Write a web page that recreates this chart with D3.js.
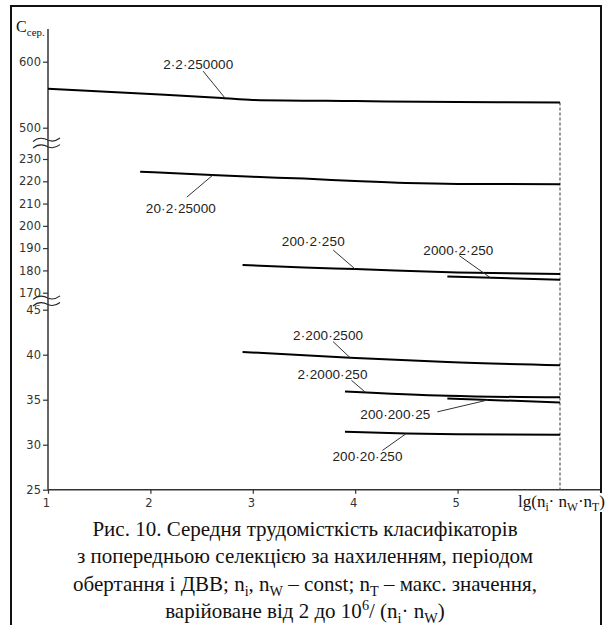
<!DOCTYPE html>
<html>
<head>
<meta charset="utf-8">
<script src="https://cdn.jsdelivr.net/npm/d3@7"></script>
<style>
  body { margin: 0; background: #fff; }
  svg { display: block; }
</style>
</head>
<body>
<div id="chart"></div>
<script>
// values
const seriesNames = ["2·2·250000", "20·2·25000", "200·2·250", "2000·2·250",
                     "2·200·2500", "2·2000·250", "200·200·25", "200·20·250"];
const seriesPanel = ["top", "mid", "mid", "mid", "bot", "bot", "bot", "bot"];
const seriesX = [
  [1, 2, 2.7, 3, 4, 5, 6],
  [1.9, 2.6, 3, 3.5, 4, 4.5, 5, 6],
  [2.9, 3.5, 4, 5, 6],
  [4.9, 6],
  [2.9, 3.95, 4.9, 6],
  [3.9, 4.9, 6],
  [4.9, 6],
  [3.9, 4.5, 5, 6]
];
const seriesY = [
  [559, 551, 545, 542, 540.3, 539, 538],
  [224.3, 222.8, 222, 221.2, 220.1, 219.2, 218.8, 218.7],
  [182.4, 181.3, 180.6, 179.1, 178.4],
  [177.3, 175.8],
  [40.3, 39.67, 39.18, 38.84],
  [35.92, 35.44, 35.26],
  [35.14, 34.7],
  [31.44, 31.25, 31.15, 31.1]
];
const xTicks = [1, 2, 3, 4, 5];
const topTicks = [500, 600];
const midTicks = [170, 180, 190, 200, 210, 220, 230];
const botTicks = [25, 30, 35, 40, 45];

// label placement: point on the line (lg value) and pixel offsets
const labelAt = [2.73, 2.61, 4.0, 5.32, 3.95, 4.1, 5.3, 4.5];
const leaderFrom = [[-22, -27], [-26, 22], [-22, -19], [-31, -22], [-17, -16], [-14, -12], [-51, 12], [-24, 17]];
const textAt = [[-27, -29], [-32, 38], [-42, -23], [-32, -23], [-22, -18], [-33, -13], [-93, 19], [-39, 28]];

const W = 610, H = 625;
const svg = d3.select("#chart").append("svg")
  .attr("width", W).attr("height", H)
  .attr("viewBox", `0 0 ${W} ${H}`);

const x = d3.scaleLinear().domain([1, 6]).range([48, 560]);
const y = {
  top: d3.scaleLinear().domain([500, 600]).range([127.7, 61.7]),
  mid: d3.scaleLinear().domain([170, 230]).range([292.7, 159]),
  bot: d3.scaleLinear().domain([25, 45]).range([489.7, 309.7])
};
const x0 = x(1), yBase = y.bot(25);

// frame
svg.append("rect")
  .attr("x", 11).attr("y", 6).attr("width", 590).attr("height", 630)
  .attr("fill", "none").attr("stroke", "#111").attr("stroke-width", 2);

// y axis line
svg.append("line")
  .attr("x1", x0).attr("x2", x0).attr("y1", 29).attr("y2", yBase)
  .attr("stroke", "#333").attr("stroke-width", 1.5);

// x axis line
svg.append("line")
  .attr("x1", x0).attr("x2", 600).attr("y1", yBase).attr("y2", yBase)
  .attr("stroke", "#333").attr("stroke-width", 1.5);

function styleAxis(g) {
  g.select(".domain").remove();
  g.selectAll(".tick line").attr("stroke", "#333").attr("stroke-width", 1.2);
  g.selectAll(".tick text")
    .attr("fill", "#333")
    .style("font-family", "'DejaVu Sans', sans-serif")
    .style("font-size", "11.5px");
}

[["top", topTicks], ["mid", midTicks], ["bot", botTicks]].forEach(([k, t]) => {
  svg.append("g")
    .attr("transform", `translate(${x0},0)`)
    .call(d3.axisLeft(y[k]).tickValues(t).tickSize(5).tickPadding(2))
    .call(styleAxis);
});

svg.append("g")
  .attr("transform", `translate(0,${yBase})`)
  .call(d3.axisBottom(x).tickValues(xTicks).tickSize(4).tickPadding(5).tickFormat(d3.format("d")))
  .call(styleAxis)
  .selectAll(".tick text").attr("dx", -2);

// axis break marks
[[y.top(500), y.mid(230)], [y.mid(170), y.bot(45)]].forEach(([a, b]) => {
  const mid = (a + b) / 2;
  [mid - 3.3, mid + 3.3].forEach(yy => {
    svg.append("path")
      .attr("d", `M33,${yy + 1.5} C38,${yy - 3} 44,${yy - 2} 48,${yy} S56,${yy + 1} 60,${yy - 2}`)
      .attr("fill", "#fff").attr("stroke", "#222").attr("stroke-width", 1.1);
  });
});

// dashed limit at lg = 6
svg.append("line")
  .attr("x1", x(6)).attr("x2", x(6))
  .attr("y1", y.top(seriesY[0][seriesY[0].length - 1])).attr("y2", yBase)
  .attr("stroke", "#555").attr("stroke-width", 1.2)
  .attr("stroke-dasharray", "3,2");

// series lines
seriesNames.forEach((name, i) => {
  const ys = y[seriesPanel[i]];
  const pts = seriesX[i].map((v, j) => [v, seriesY[i][j]]);
  const line = d3.line().x(d => x(d[0])).y(d => ys(d[1])).curve(d3.curveMonotoneX);
  svg.append("path")
    .datum(pts)
    .attr("d", line)
    .attr("fill", "none").attr("stroke", "#000").attr("stroke-width", 2);

  const along = d3.scaleLinear().domain(seriesX[i]).range(seriesY[i]);
  const ax = x(labelAt[i]), ay = ys(along(labelAt[i]));
  svg.append("line")
    .attr("x1", ax + leaderFrom[i][0]).attr("y1", ay + leaderFrom[i][1])
    .attr("x2", ax).attr("y2", ay)
    .attr("stroke", "#333").attr("stroke-width", 1);
  svg.append("text")
    .attr("x", ax + textAt[i][0]).attr("y", ay + textAt[i][1])
    .attr("text-anchor", "middle")
    .attr("textLength", 7 * name.length).attr("lengthAdjust", "spacing")
    .attr("fill", "#222")
    .style("font-family", "'Liberation Sans', Arial, sans-serif")
    .style("font-size", "13.5px")
    .text(name);
});

// rich text helper: parts are [string, "n" | "sub" | "sup"]
function rich(sel, parts, size) {
  let shift = 0;
  parts.forEach(([s, mode]) => {
    const target = mode === "sub" ? size * 0.25 : mode === "sup" ? -size * 0.4 : 0;
    sel.append("tspan")
      .attr("dy", target - shift)
      .style("font-size", mode === "n" ? size + "px" : (size * 0.68) + "px")
      .text(s);
    shift = target;
  });
  if (shift) sel.append("tspan").attr("dy", -shift).text("");
}

// y label
const yl = svg.append("text").attr("x", 16).attr("y", 31.5)
  .attr("fill", "#111")
  .style("font-family", "'Liberation Serif', 'Times New Roman', serif");
rich(yl, [["C", "n"], ["сер.", "sub"]], 16);

// x label with white box over the frame
svg.append("rect").attr("x", 514).attr("y", 493).attr("width", 93).attr("height", 19).attr("fill", "#fff");
const xl = svg.append("text").attr("x", 518).attr("y", 507)
  .attr("fill", "#111")
  .style("font-family", "'Liberation Serif', 'Times New Roman', serif");
rich(xl, [["lg(n", "n"], ["i", "sub"], ["· n", "n"], ["W", "sub"], ["·n", "n"], ["T", "sub"], [")", "n"]], 17);

// caption
const capLines = [
  [["Рис. 10. Середня трудомісткість класифікаторів", "n"]],
  [["з попередньою селекцією за нахиленням, періодом", "n"]],
  [["обертання і ДВВ; n", "n"], ["i", "sub"], [", n", "n"], ["W", "sub"], [" – const; n", "n"], ["T", "sub"], [" – макс. значення,", "n"]],
  [["варійоване від 2 до 10", "n"], ["6", "sup"], ["/ (n", "n"], ["i", "sub"], ["·  n", "n"], ["W", "sub"], [")", "n"]]
];
capLines.forEach((parts, i) => {
  const t = svg.append("text")
    .attr("x", 305).attr("y", 536 + i * 27.3)
    .attr("text-anchor", "middle")
    .attr("fill", "#111")
    .style("font-family", "'Liberation Serif', 'Times New Roman', serif");
  rich(t, parts, 21);
});
</script>
</body>
</html>
